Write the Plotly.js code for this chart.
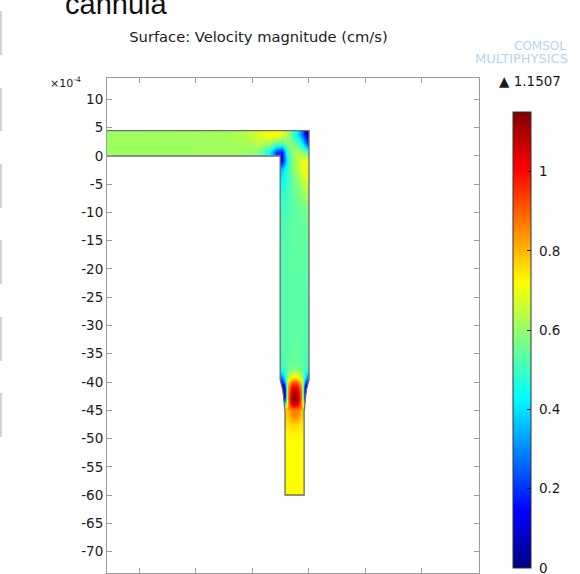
<!DOCTYPE html>
<html>
<head>
<meta charset="utf-8">
<script src="https://cdn.plot.ly/plotly-3.0.1.min.js"></script>
<style>
  html, body { margin: 0; padding: 0; background: #fff; }
  #plot { width: 580px; height: 574px; }
</style>
</head>
<body>
<div id="plot"></div>
<script>
// Velocity magnitude (cm/s) in the cannula, coordinates in units of 1e-4.

// Horizontal inlet channel (bottom row first)
const inletXEdges = [-40, -14, -10, -8, -6.4, -5.1];
const inletYEdges = [0, 1.5, 3, 4.5];
const inletSpeed = [
  [0.61, 0.61, 0.58, 0.45, 0.20],
  [0.61, 0.62, 0.64, 0.62, 0.55],
  [0.61, 0.63, 0.68, 0.72, 0.72]
];

// Vertical wide section, from the end of the taper up to the elbow (bottom row first)
const bodyXEdges = [-5.1, -4.6, -4.0, -3.3, -2.55, -1.8, -1.1, -0.5, 0];
const bodyYEdges = [-45.3, -44.4, -43.5, -42.5, -41.5, -40.5, -39.5, -38.5, -37.5, -36,
                    -30, -20, -12, -8, -5, -3, -1.5, 0, 1.5, 3, 4.5];
const bodySpeed = [
  [0.76, 0.78, 0.84, 0.88, 0.88, 0.84, 0.78, 0.76],
  [0.30, 0.40, 0.86, 1.05, 1.05, 0.86, 0.40, 0.30],
  [0.03, 0.10, 0.88, 1.13, 1.13, 0.88, 0.10, 0.03],
  [0.02, 0.06, 0.88, 1.10, 1.10, 0.88, 0.06, 0.02],
  [0.04, 0.10, 0.85, 1.02, 1.02, 0.85, 0.10, 0.04],
  [0.15, 0.30, 0.76, 0.90, 0.90, 0.76, 0.30, 0.15],
  [0.30, 0.45, 0.63, 0.72, 0.72, 0.63, 0.45, 0.30],
  [0.45, 0.50, 0.56, 0.60, 0.60, 0.56, 0.50, 0.45],
  [0.50, 0.52, 0.54, 0.55, 0.55, 0.54, 0.52, 0.50],
  [0.52, 0.53, 0.53, 0.54, 0.54, 0.53, 0.53, 0.52],
  [0.52, 0.53, 0.53, 0.53, 0.53, 0.53, 0.53, 0.52],
  [0.52, 0.53, 0.53, 0.54, 0.54, 0.54, 0.54, 0.54],
  [0.50, 0.51, 0.52, 0.53, 0.54, 0.55, 0.56, 0.56],
  [0.47, 0.49, 0.51, 0.54, 0.56, 0.59, 0.62, 0.63],
  [0.42, 0.46, 0.50, 0.55, 0.60, 0.64, 0.68, 0.69],
  [0.35, 0.42, 0.50, 0.57, 0.63, 0.68, 0.71, 0.72],
  [0.12, 0.30, 0.48, 0.58, 0.64, 0.68, 0.70, 0.70],
  [0.15, 0.35, 0.52, 0.60, 0.62, 0.60, 0.56, 0.50],
  [0.52, 0.57, 0.60, 0.58, 0.52, 0.44, 0.32, 0.20],
  [0.70, 0.66, 0.60, 0.52, 0.42, 0.30, 0.15, 0.06]
];

// Narrow outlet tube (bottom row first); its top edge tucks just under the taper
const tipXEdges = [-4.24, -3.4, -2.55, -1.7, -0.86];
const tipYEdges = [-60, -52, -48.5, -46.8, -45.0];
const tipSpeed = [
  [0.72, 0.72, 0.72, 0.72],
  [0.72, 0.72, 0.72, 0.72],
  [0.74, 0.76, 0.76, 0.74],
  [0.78, 0.86, 0.86, 0.78]
];

// Curved walls of the taper between the wide and narrow sections
const taperY      = [-39.6, -40.3, -41.2, -42.3, -43.5, -44.5, -45.3];
const taperLeftX  = [-5.1, -4.89, -4.69, -4.53, -4.39, -4.29, -4.24];
const taperRightX = [0, -0.21, -0.41, -0.57, -0.71, -0.81, -0.86];

// Scales and ticks
const speedMin = 0;
const speedMax = 1.1507;
const xTicks = [-30, -20, -10, 0, 10, 20, 30];
const yTicks = [10, 5, 0, -5, -10, -15, -20, -25, -30, -35, -40, -45, -50, -55, -60, -65, -70];
const colorTicks = [0, 0.2, 0.4, 0.6, 0.8, 1];
const colorTickText = ['0', '0.2', '0.4', '0.6', '0.8', '1'];

// Pixel helpers for items placed around the plot area
const M = { l: 107, r: 101, t: 78, b: 1 };
const W = 580, H = 574;
const pw = W - M.l - M.r, ph = H - M.t - M.b;
const px = X => (X - M.l) / pw;
const py = Y => (H - M.b - Y) / ph;

const jet = [
  [0, 'rgb(0,0,128)'],
  [0.125, 'rgb(0,0,255)'],
  [0.375, 'rgb(0,255,255)'],
  [0.625, 'rgb(255,255,0)'],
  [0.875, 'rgb(255,0,0)'],
  [1, 'rgb(128,0,0)']
];

function field(xe, ye, z) {
  return {
    type: 'heatmap', x: xe, y: ye, z: z,
    zsmooth: 'best', coloraxis: 'coloraxis', hoverinfo: 'skip'
  };
}

// Channel outline polygon
const chanTop = inletYEdges[inletYEdges.length - 1];
const chanLeft = inletXEdges[0];
const tipBottom = tipYEdges[0];
const outlineX = [chanLeft, 0];
const outlineY = [chanTop, chanTop];
taperY.forEach((y, i) => { outlineX.push(taperRightX[i]); outlineY.push(y); });
outlineX.push(tipXEdges[tipXEdges.length - 1], tipXEdges[0]);
outlineY.push(tipBottom, tipBottom);
for (let i = taperY.length - 1; i >= 0; i--) { outlineX.push(taperLeftX[i]); outlineY.push(taperY[i]); }
outlineX.push(bodyXEdges[0], chanLeft);
outlineY.push(0, 0);

// White fill outside the tapered walls
const lastT = taperY.length - 1;
const maskLeft = {
  type: 'scatter', mode: 'lines', hoverinfo: 'skip',
  x: [-5.5, ...taperLeftX, -5.5],
  y: [taperY[0], ...taperY, taperY[lastT]],
  fill: 'toself', fillcolor: '#ffffff', line: { width: 0, color: '#ffffff' }
};
const maskRight = {
  type: 'scatter', mode: 'lines', hoverinfo: 'skip',
  x: [0.4, ...taperRightX, 0.4],
  y: [taperY[0], ...taperY, taperY[lastT]],
  fill: 'toself', fillcolor: '#ffffff', line: { width: 0, color: '#ffffff' }
};
const outline = {
  type: 'scatter', mode: 'lines', hoverinfo: 'skip',
  x: outlineX, y: outlineY,
  line: { color: '#6b6b6b', width: 1.3 }
};

const data = [
  field(inletXEdges, inletYEdges, inletSpeed),
  field(bodyXEdges, bodyYEdges, bodySpeed),
  field(tipXEdges, tipYEdges, tipSpeed),
  maskLeft, maskRight, outline
];

const axisColor = '#9c9c9c';
const font = 'DejaVu Sans, Verdana, sans-serif';

// Thin grey marks along the left border of the page
const edgeMarks = [[11, 55], [88, 131], [164, 208], [240, 284], [317, 361], [393, 437]];

const layout = {
  width: W, height: H,
  margin: { l: M.l, r: M.r, t: M.t, b: M.b, pad: 0 },
  paper_bgcolor: '#ffffff', plot_bgcolor: '#ffffff',
  showlegend: false,
  font: { family: font, size: 13.5, color: '#1a1a1a' },
  title: {
    text: 'Surface: Velocity magnitude (cm/s)',
    xref: 'container', x: 258.5 / W, xanchor: 'center',
    yref: 'container', y: 1 - 37 / H, yanchor: 'middle',
    font: { family: font, size: 14.7, color: '#1a1a1a' }
  },
  xaxis: {
    range: [-35.75, 30.09], tickvals: xTicks, showticklabels: false,
    ticks: 'inside', ticklen: 5, tickcolor: axisColor, tickwidth: 1,
    showline: true, linecolor: axisColor, linewidth: 1, mirror: 'ticks',
    showgrid: false, zeroline: false, fixedrange: true
  },
  yaxis: {
    range: [-73.8, 13.8], tickvals: yTicks, ticktext: yTicks.map(v => String(v)),
    ticks: 'inside', ticklen: 5, tickcolor: axisColor, tickwidth: 1,
    showline: true, linecolor: axisColor, linewidth: 1, mirror: 'ticks',
    showgrid: false, zeroline: false, fixedrange: true,
    tickfont: { family: font, size: 13.5, color: '#1a1a1a' }
  },
  coloraxis: {
    colorscale: jet,
    cmin: speedMin, cmax: speedMax,
    colorbar: {
      thickness: 18, thicknessmode: 'pixels', len: 456, lenmode: 'pixels',
      x: px(512.7), xanchor: 'left', xpad: 0,
      y: py(340), yanchor: 'middle', ypad: 0,
      outlinewidth: 1, outlinecolor: '#333333', borderwidth: 0,
      tickvals: colorTicks,
      // a no-break space keeps the labels a little clear of the bar
      ticktext: colorTickText.map(t => '\u00A0' + t),
      ticklabeloverflow: 'allow',
      ticks: 'inside', ticklen: 4, tickcolor: '#111111', tickwidth: 1,
      tickfont: { family: font, size: 13.5, color: '#1a1a1a' }
    }
  },
  annotations: [
    { text: '\u25B2 ' + speedMax.toFixed(4), xref: 'paper', yref: 'paper',
      x: px(530), y: py(80.8), xanchor: 'center', yanchor: 'middle', showarrow: false,
      font: { family: font, size: 13.5, color: '#1a1a1a' } },
    { text: '\u00D710<sup>-4</sup>', xref: 'paper', yref: 'paper',
      x: px(83), y: py(82), xanchor: 'right', yanchor: 'middle', showarrow: false,
      font: { family: font, size: 11, color: '#1a1a1a' } },
    { text: 'cannula', xref: 'paper', yref: 'paper',
      x: px(63), y: py(4), xanchor: 'left', yanchor: 'middle', showarrow: false,
      font: { family: 'Liberation Sans, Arial, sans-serif', size: 29, color: '#111111' } },
    { text: 'COMSOL', xref: 'paper', yref: 'paper',
      x: px(568), y: py(45), xanchor: 'right', yanchor: 'middle', showarrow: false,
      height: 11,
      font: { family: font, size: 12, color: '#b0d8ec' } },
    { text: 'MULTIPHYSICS', xref: 'paper', yref: 'paper',
      x: px(570), y: py(58.5), xanchor: 'right', yanchor: 'middle', showarrow: false,
      height: 11,
      font: { family: font, size: 13, color: '#b0d8ec' } }
  ],
  shapes: edgeMarks.map(([a, b]) => ({
    type: 'line', xref: 'paper', yref: 'paper',
    x0: px(0.8), x1: px(0.8), y0: py(a), y1: py(b),
    line: { color: '#cfcfcf', width: 2 }
  }))
};

Plotly.newPlot('plot', data, layout, { staticPlot: true, displayModeBar: false });
</script>
</body>
</html>
